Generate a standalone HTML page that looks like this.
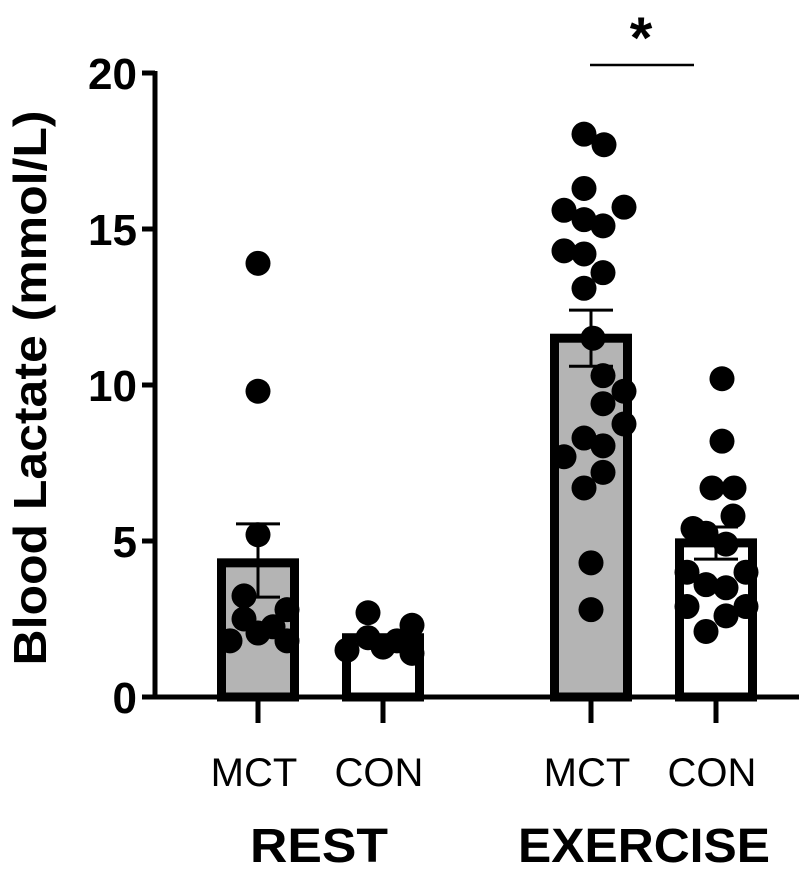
<!DOCTYPE html>
<html><head><meta charset="utf-8"><style>
html,body{margin:0;padding:0;background:#fff;}
svg{display:block;font-family:"Liberation Sans",Arial,sans-serif;}
</style></head><body>
<svg id="chart" width="799" height="877" viewBox="0 0 799 877" xmlns="http://www.w3.org/2000/svg"></svg>
<script>
const groupLabels = ["MCT","CON","MCT","CON"];
const conditionLabels = ["REST","EXERCISE"];
const means = [4.3, 1.9, 11.5, 4.94];
const semHigh = [5.55, null, 12.4, 5.45];
const semLow = [3.2, null, 10.6, 4.42];
const yTicks = [0,5,10,15,20];
const restMct = [13.9,9.8,5.2,3.24,2.5,2.05,1.8,2.8,1.8,2.25];
const restMctJitter = [0,0,0,-14,-14,0,-28,29,29,15];
const restCon = [2.7,2.3,1.9,1.6,1.8,1.4,1.5];
const restConJitter = [-15,29,-15,0,14,29,-36];
const exMct = [18.04,17.7,16.3,15.6,15.7,15.3,15.1,14.3,14.2,13.6,13.1,11.5,10.3,9.8,9.4,8.3,8.75,8.05,7.7,7.2,6.7,4.3,2.8];
const exMctJitter = [-7,13,-7,-27,33,-7,12,-27,-7,12,-7,2,12,33,12,-7,33,12,-27,12,-7,0,0];
const exCon = [10.2,8.2,6.7,6.7,5.8,5.4,5.25,4.9,4.0,4.0,3.6,3.5,2.9,2.9,2.6,2.1];
const exConJitter = [6,6,-4,18,17,-23,-10,10,-29,30,-10,10,-29,30,10,-10];
const seriesPoints = [restMct, restCon, exMct, exCon];
const seriesJitter = [restMctJitter, restConJitter, exMctJitter, exConJitter];

const NS = "http://www.w3.org/2000/svg";
const svg = document.getElementById("chart");
const y0px = 697, y20px = 73, yMax = 20;
function yScale(v){ return y0px - (v / yMax) * (y0px - y20px); }
const groupCenters = [258, 383, 591, 716];
function xScale(i){ return groupCenters[i]; }
function mk(tag, attrs){ const e = document.createElementNS(NS, tag); for (const k in attrs) e.setAttribute(k, attrs[k]); svg.appendChild(e); return e; }

means.forEach((m, i) => {
  const r = mk("rect", {x: xScale(i) - 36.5, y: yScale(m), width: 73, height: y0px - yScale(m), fill: (i % 2 === 0) ? "#b4b4b4" : "#ffffff", stroke: "#000", "stroke-width": 9});
  
  
});
means.forEach((m, i) => {
  if (semHigh[i] === null) return;
  const cx = xScale(i);
  const g = document.createElementNS(NS, "g");
  
  
  svg.appendChild(g);
  [[cx, yScale(semLow[i]), cx, yScale(semHigh[i])],
   [cx - 22, yScale(semHigh[i]), cx + 22, yScale(semHigh[i])],
   [cx - 22, yScale(semLow[i]), cx + 22, yScale(semLow[i])]].forEach(c => {
    const l = document.createElementNS(NS, "line");
    l.setAttribute("x1", c[0]); l.setAttribute("y1", c[1]); l.setAttribute("x2", c[2]); l.setAttribute("y2", c[3]);
    l.setAttribute("stroke", "#000"); l.setAttribute("stroke-width", 3);
    g.appendChild(l);
  });
});
seriesPoints.forEach((arr, i) => {
  arr.forEach((v, j) => {
    const c = mk("circle", {cx: xScale(i) + seriesJitter[i][j], cy: yScale(v), r: 12.5, fill: "#000"});
    
    
  });
});
const ya = mk("line", {x1: 155, y1: y20px - 2, x2: 155, y2: y0px + 2, stroke: "#000", "stroke-width": 5});
 
const xa = mk("line", {x1: 153, y1: y0px, x2: 799, y2: y0px, stroke: "#000", "stroke-width": 5});
 
yTicks.forEach(t => {
  const tk = mk("line", {x1: 142, y1: yScale(t), x2: 155, y2: yScale(t), stroke: "#000", "stroke-width": 5});
   
  const tx = mk("text", {x: 137, y: yScale(t) + 16, "text-anchor": "end", "font-size": 44, "font-weight": "bold"});
  tx.textContent = t;
   
});
groupLabels.forEach((lab, i) => {
  const tk = mk("line", {x1: xScale(i), y1: y0px, x2: xScale(i), y2: 723, stroke: "#000", "stroke-width": 5});
   
  const tx = mk("text", {x: xScale(i) - 4, y: 786, "text-anchor": "middle", "font-size": 40});
  tx.textContent = lab;
   
});
const condCenters = [319, 644];
const condWidths = [138, 252];
conditionLabels.forEach((lab, k) => {
  const tx = mk("text", {x: condCenters[k], y: 862, "text-anchor": "middle", "font-size": 48, "font-weight": "bold", textLength: condWidths[k], lengthAdjust: "spacingAndGlyphs"});
  tx.textContent = lab;
   
});
const yt = mk("text", {x: 0, y: 0, transform: "translate(46,388) rotate(-90)", "text-anchor": "middle", "font-size": 46, "font-weight": "bold", textLength: 555, lengthAdjust: "spacingAndGlyphs"});
yt.textContent = "Blood Lactate  (mmol/L)";
 
const sl = mk("line", {x1: 590, y1: 65, x2: 694, y2: 65, stroke: "#000", "stroke-width": 2.5});
 
const st = mk("text", {x: 641, y: 58, "text-anchor": "middle", "font-size": 58, "font-weight": "bold"});
st.textContent = "*";
 
</script>
</body></html>
